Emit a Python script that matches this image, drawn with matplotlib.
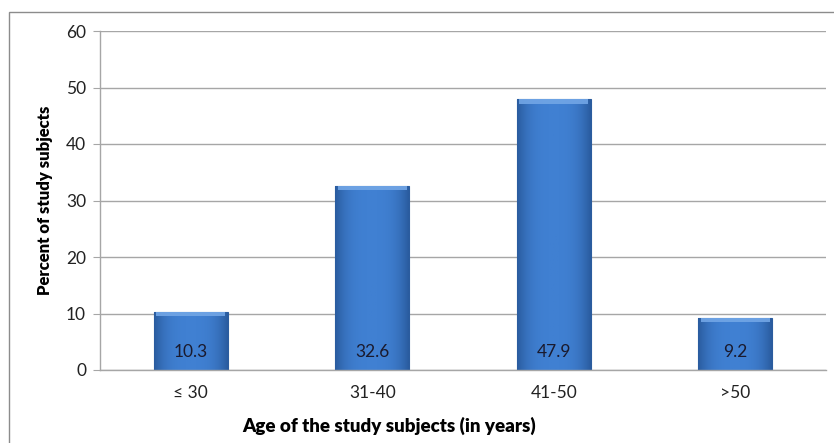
import numpy as np
import matplotlib.pyplot as plt
from matplotlib.patches import Rectangle

plt.rcParams['font.family'] = ['Lato', 'DejaVu Sans']

age_groups = ['\u2264 30', '31-40', '41-50', '>50']
percent = [10.3, 32.6, 47.9, 9.2]

fig = plt.figure(figsize=(8.34, 4.43), dpi=100)
W, H = 834, 443
ax = fig.add_axes([100 / W, 1 - 370 / H, 726 / W, 339 / H])

# outer chart border (runs off the right/bottom edge)
fig.patches.append(Rectangle((9 / W, -0.1), 1.2, 1 - 12 / H + 0.1,
                             transform=fig.transFigure, fill=False,
                             edgecolor='#8c8c8c', linewidth=1.0, zorder=0))

x = np.arange(len(age_groups))
bw = 0.405
bars = ax.bar(x, percent, width=bw, color='#3d78c6', edgecolor='#2b5c9e',
              linewidth=0.8, zorder=2)

# horizontal shading so the bars look rounded
grad = np.linspace(0, 1, 64)
shade = 1 - (2 * np.abs(grad - 0.5)) ** 3
cmap = plt.matplotlib.colors.LinearSegmentedColormap.from_list(
    'bar', ['#2a5c9f', '#4080d2'])
for b in bars:
    x0, w, h = b.get_x(), b.get_width(), b.get_height()
    im = ax.imshow(shade[np.newaxis, :], cmap=cmap, vmin=0, vmax=1,
                   extent=[x0, x0 + w, 0, h], aspect='auto', zorder=2.5)
    im.set_clip_path(b)
    # light bevel along the top
    ax.add_patch(Rectangle((x0 + 0.012, h - 0.75), w - 0.024, 0.75,
                           facecolor='#72a6e6', edgecolor='none',
                           alpha=0.9, zorder=2.6))
    ax.text(x0 + w / 2, 3.1, f'{h:.1f}', ha='center', va='center',
            fontsize=12.5, color='#1a1a2e', zorder=3)

ax.set_xlim(-0.5, len(age_groups) - 0.5)
ax.set_ylim(0, 60)
ax.set_yticks(range(0, 61, 10))
ax.set_xticks(x)
ax.set_xticklabels(age_groups)
ax.yaxis.grid(True, color='#a6a6a6', linewidth=1.0, zorder=0)
ax.set_axisbelow(True)

for s in ['top', 'right']:
    ax.spines[s].set_visible(False)
for s in ['left', 'bottom']:
    ax.spines[s].set_color('#a6a6a6')
    ax.spines[s].set_linewidth(1.0)

ax.tick_params(axis='y', length=5, color='#a6a6a6', labelsize=12.5,
               labelcolor='#222222', pad=5)
ax.tick_params(axis='x', length=0, labelsize=12.5, labelcolor='#222222', pad=11)

ax.set_ylabel('Percent of study subjects', fontsize=12, fontweight='heavy',
              labelpad=9)
fig.text(389 / W, 1 - 426 / H, 'Age of the study subjects (in years)',
         ha='center', va='center', fontsize=13.5, fontweight='heavy')

fig.savefig('out.png', dpi=100)
